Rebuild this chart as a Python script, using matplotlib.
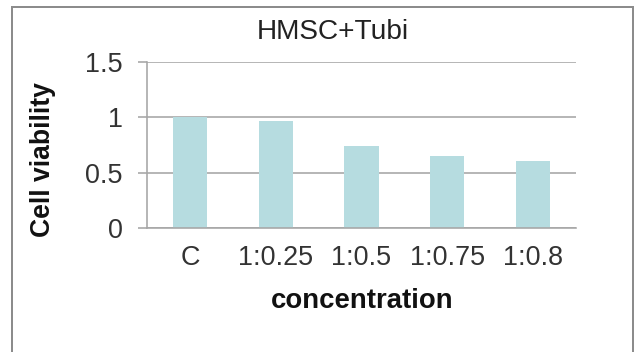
import matplotlib.pyplot as plt
from matplotlib.patches import Rectangle

plt.rcParams['font.family'] = ['Liberation Sans', 'DejaVu Sans']

# data
categories = ["C", "1:0.25", "1:0.5", "1:0.75", "1:0.8"]
viability = [1.0, 0.97, 0.74, 0.65, 0.605]
yticks = [0, 0.5, 1, 1.5]
ytick_labels = ["0", "0.5", "1", "1.5"]

W, H = 643, 352
fig = plt.figure(figsize=(W / 72, H / 72), dpi=72)

# axes box in pixels: left 147, right 576, top 62, bottom 228
ax = fig.add_axes([147 / W, 1 - 228 / H, (576 - 147) / W, (228 - 62) / H])

ax.bar(range(len(categories)), viability, width=0.4, color="#b6dce0", zorder=2)

ax.set_xlim(-0.5, len(categories) - 0.5)
ax.set_ylim(0, 1.5)
ax.set_yticks(yticks)
ax.set_yticklabels(ytick_labels)
ax.set_xticks(range(len(categories)))
ax.set_xticklabels(categories)

ax.grid(axis="y", color="#a6a6a6", linewidth=1.6, zorder=1)
for s in ["top", "right"]:
    ax.spines[s].set_visible(False)
ax.spines["left"].set_color("#a6a6a6")
ax.spines["left"].set_linewidth(1.6)
ax.spines["bottom"].set_color("#a6a6a6")
ax.spines["bottom"].set_linewidth(1.6)
ax.spines["bottom"].set_zorder(3)

ax.tick_params(axis="y", length=9, width=1.6, color="#a6a6a6", pad=15,
               labelsize=27, labelcolor="#333333")
ax.tick_params(axis="x", length=0, pad=17, labelsize=27, labelcolor="#333333")

fig.text(333 / W, 1 - 39 / H, "HMSC+Tubi", ha="center", va="baseline",
         fontsize=28, color="#222222")
fig.text(362 / W, 1 - 308 / H, "concentration", ha="center", va="baseline",
         fontsize=27.5, fontweight="bold", color="#111111")
fig.text(43 / W, 1 - 160 / H, "Cell viability", ha="center", va="center",
         rotation=90, fontsize=26.5, fontweight="bold", color="#111111")

# outer chart frame (bottom edge is cut off in the original)
frame = Rectangle((12 / W, -0.05), (633 - 12) / W, 1 - 7 / H + 0.05,
                  transform=fig.transFigure, fill=False,
                  edgecolor="#8c8c8c", linewidth=2)
fig.patches.append(frame)

fig.savefig("out.png", dpi=72)
